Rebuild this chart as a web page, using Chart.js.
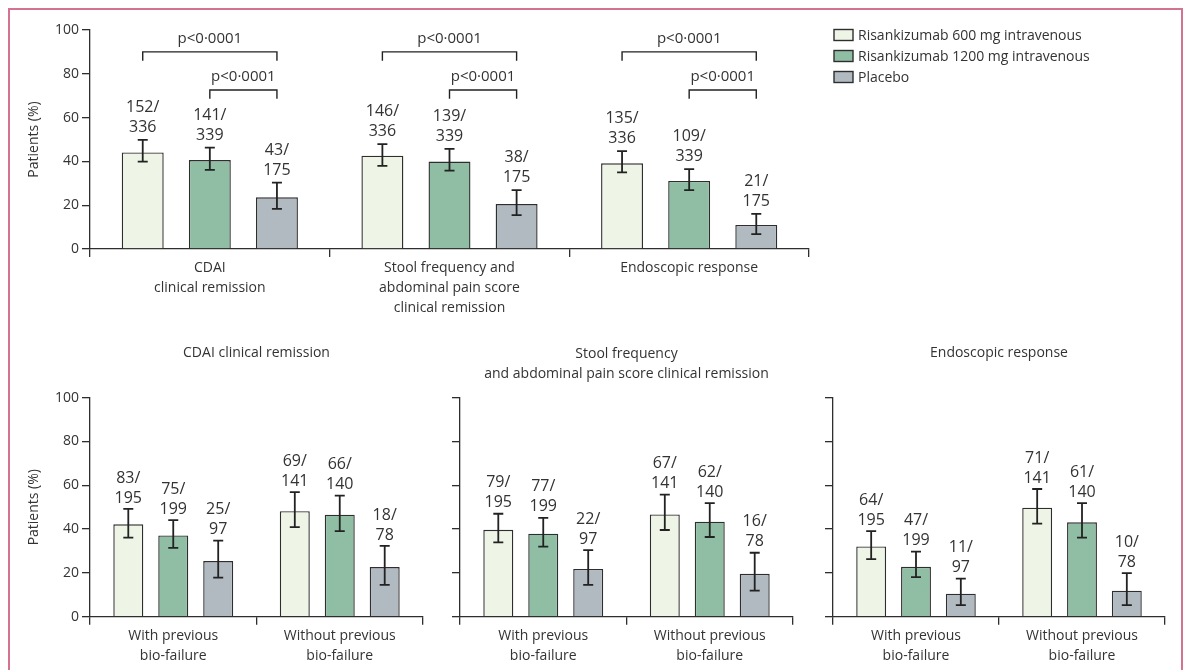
<!DOCTYPE html>
<html><head><meta charset="utf-8">
<script src="https://cdn.jsdelivr.net/npm/chart.js@4.4.1/dist/chart.umd.min.js"></script>
<style>
html,body{margin:0;padding:0;background:#fff;}
body{width:1184px;height:670px;position:relative;overflow:hidden;}
#frame{position:absolute;left:8px;top:8px;width:1175px;height:720px;border:2px solid #d4738f;box-sizing:border-box;}
canvas{position:absolute;}
</style></head><body>
<div id="frame"></div>
<canvas id="topChart" style="left:0;top:0;width:1184px;height:330px" width="1184" height="330"></canvas>
<canvas id="b1" style="left:0;top:330px;width:430px;height:340px" width="430" height="340"></canvas>
<canvas id="b2" style="left:400px;top:330px;width:400px;height:340px" width="400" height="340"></canvas>
<canvas id="b3" style="left:790px;top:330px;width:394px;height:340px" width="394" height="340"></canvas>
<script>
// ---------- DATA ----------
const seriesNames = ["Risankizumab 600 mg intravenous", "Risankizumab 1200 mg intravenous", "Placebo"];
const yTicks = [0, 20, 40, 60, 80, 100];
const pText = "p<0\u00B70001";

// Top panel
const topCategories = [["CDAI", "clinical remission"], ["Stool frequency and", "abdominal pain score", "clinical remission"], ["Endoscopic response"]];
const top600 = [44.1, 42.6, 39.1];
const top600Lo = [39.9, 38.0, 35.0];
const top600Hi = [49.8, 47.9, 44.7];
const top600N = ["152/336", "146/336", "135/336"];
const top1200 = [40.6, 39.9, 31.1];
const top1200Lo = [36.1, 35.8, 26.9];
const top1200Hi = [46.3, 45.7, 36.5];
const top1200N = ["141/339", "139/339", "109/339"];
const topPlacebo = [23.6, 20.5, 11.0];
const topPlaceboLo = [18.3, 15.5, 6.8];
const topPlaceboHi = [30.3, 26.9, 16.0];
const topPlaceboN = ["43/175", "38/175", "21/175"];

// Bottom panels
const subCategories = [["With previous", "bio-failure"], ["Without previous", "bio-failure"]];

const cdaiTitle = ["CDAI clinical remission"];
const cdai600 = [42.2, 48.2], cdai600Lo = [36.1, 40.9], cdai600Hi = [49.2, 56.9], cdai600N = ["83/195", "69/141"];
const cdai1200 = [37.1, 46.6], cdai1200Lo = [31.4, 39.1], cdai1200Hi = [44.1, 55.3], cdai1200N = ["75/199", "66/140"];
const cdaiPlacebo = [25.4, 22.7], cdaiPlaceboLo = [17.8, 14.5], cdaiPlaceboHi = [34.7, 32.3], cdaiPlaceboN = ["25/97", "18/78"];

const stoolTitle = ["Stool frequency", "and abdominal pain score clinical remission"];
const stool600 = [39.7, 46.7], stool600Lo = [33.9, 39.6], stool600Hi = [47.0, 55.7], stool600N = ["79/195", "67/141"];
const stool1200 = [37.9, 43.4], stool1200Lo = [32.0, 36.4], stool1200Hi = [45.1, 51.9], stool1200N = ["77/199", "62/140"];
const stoolPlacebo = [21.8, 19.6], stoolPlaceboLo = [14.5, 11.9], stoolPlaceboHi = [30.4, 29.2], stoolPlaceboN = ["22/97", "16/78"];

const endoTitle = ["Endoscopic response"];
const endo600 = [32.1, 49.8], endo600Lo = [26.3, 42.5], endo600Hi = [39.1, 58.3], endo600N = ["64/195", "71/141"];
const endo1200 = [22.8, 43.1], endo1200Lo = [18.1, 36.1], endo1200Hi = [29.7, 51.9], endo1200N = ["47/199", "61/140"];
const endoPlacebo = [10.5, 11.9], endoPlaceboLo = [5.3, 5.3], endoPlaceboHi = [17.4, 19.9], endoPlaceboN = ["11/97", "10/78"];

// ---------- STYLE ----------
const FONT = '"Open Sans", "Noto Sans", sans-serif';
const INK = '#333333';
const LINE = '#2e2e2e';
const fills = ['#eef5e6', '#8fbea4', '#b1b9c1'];

function makeDatasets(vals, los, his, ns) {
  return vals.map((v, i) => ({
    label: seriesNames[i], data: v, errLo: los[i], errHi: his[i], counts: ns[i],
    backgroundColor: fills[i], borderColor: LINE, borderWidth: 1.4, borderSkipped: 'bottom'
  }));
}

const errLabelPlugin = {
  id: 'errLabels',
  afterDatasetsDraw(chart, args, opts) {
    const ctx = chart.ctx, ys = chart.scales.y;
    chart.data.datasets.forEach((ds, i) => {
      chart.getDatasetMeta(i).data.forEach((bar, j) => {
        const x = bar.x;
        const yHi = ys.getPixelForValue(ds.errHi[j]);
        const yLo = ys.getPixelForValue(ds.errLo[j]);
        ctx.save();
        ctx.strokeStyle = '#222'; ctx.lineWidth = 1.8;
        ctx.beginPath();
        ctx.moveTo(x, yHi); ctx.lineTo(x, yLo);
        ctx.moveTo(x - 5, yHi); ctx.lineTo(x + 5, yHi);
        ctx.moveTo(x - 5, yLo); ctx.lineTo(x + 5, yLo);
        ctx.stroke();
        const parts = ds.counts[j].split('/');
        ctx.fillStyle = INK; ctx.font = '16px ' + FONT;
        ctx.textAlign = 'center'; ctx.textBaseline = 'middle';
        ctx.fillText(parts[0] + '/', x, yHi - opts.gap - 20);
        ctx.fillText(parts[1], x, yHi - opts.gap);
        ctx.restore();
      });
    });
  }
};

const bracketPlugin = {
  id: 'brackets',
  afterDatasetsDraw(chart, args, opts) {
    if (!opts.items) return;
    const ctx = chart.ctx, ys = chart.scales.y;
    opts.items.forEach(b => {
      chart.data.labels.forEach((_, j) => {
        const x1 = chart.getDatasetMeta(b.from).data[j].x;
        const x2 = chart.getDatasetMeta(b.to).data[j].x;
        const yb = ys.getPixelForValue(b.level);
        const yl = ys.getPixelForValue(b.level - 4);
        ctx.save();
        ctx.strokeStyle = '#222'; ctx.lineWidth = 1.4;
        ctx.beginPath();
        ctx.moveTo(x1, yl); ctx.lineTo(x1, yb); ctx.lineTo(x2, yb); ctx.lineTo(x2, yl);
        ctx.stroke();
        ctx.fillStyle = INK; ctx.font = '15px ' + FONT;
        ctx.textAlign = 'center'; ctx.textBaseline = 'middle';
        ctx.fillText(b.text, (x1 + x2) / 2, ys.getPixelForValue(b.level + 6));
        ctx.restore();
      });
    });
  }
};

const panelTitlePlugin = {
  id: 'panelTitle',
  afterDraw(chart, args, opts) {
    if (!opts.lines) return;
    const ctx = chart.ctx, ca = chart.chartArea;
    ctx.save();
    ctx.fillStyle = INK; ctx.font = '14px ' + FONT;
    ctx.textAlign = 'center'; ctx.textBaseline = 'middle';
    opts.lines.forEach((t, k) => ctx.fillText(t, (ca.left + ca.right) / 2, opts.y + k * 20));
    ctx.restore();
  }
};

const boxLegendPlugin = {
  id: 'boxLegend',
  afterDraw(chart, args, opts) {
    if (!opts.show) return;
    const ctx = chart.ctx;
    ctx.save();
    chart.data.datasets.forEach((ds, i) => {
      const y = opts.y + i * 21;
      ctx.fillStyle = ds.backgroundColor;
      ctx.fillRect(opts.x, y - 5.5, 19, 11);
      ctx.strokeStyle = LINE; ctx.lineWidth = 1.4;
      ctx.strokeRect(opts.x, y - 5.5, 19, 11);
      ctx.fillStyle = INK; ctx.font = '14px ' + FONT;
      ctx.textAlign = 'left'; ctx.textBaseline = 'middle';
      ctx.fillText(ds.label, opts.x + 24, y + 1);
    });
    ctx.restore();
  }
};

function makeChart(id, cfg) {
  return new Chart(document.getElementById(id), {
    type: 'bar',
    data: { labels: cfg.labels, datasets: cfg.datasets },
    plugins: [errLabelPlugin, bracketPlugin, panelTitlePlugin, boxLegendPlugin],
    options: {
      responsive: false, animation: false,
      layout: { padding: { top: cfg.padTop, right: cfg.padRight, left: 0, bottom: 0 } },
      datasets: { bar: { categoryPercentage: cfg.catPct, barPercentage: cfg.barPct } },
      plugins: {
        legend: { display: false }, tooltip: { enabled: false }, title: { display: false },
        errLabels: { gap: cfg.gap },
        brackets: { items: cfg.brackets },
        panelTitle: { lines: cfg.title, y: cfg.titleY },
        boxLegend: { show: cfg.legend, x: 834, y: 35 }
      },
      scales: {
        x: {
          type: 'category', offset: true,
          grid: { display: true, offset: true, drawOnChartArea: false, drawTicks: true, tickLength: 8, color: LINE, lineWidth: 1.3 },
          border: { display: true, color: LINE, width: 1.3 },
          ticks: { color: INK, font: { family: FONT, size: 14, lineHeight: 1.43 }, padding: 1, maxRotation: 0, autoSkip: false },
          afterFit: s => { s.height = cfg.xHeight; }
        },
        y: {
          min: 0, max: 100,
          afterBuildTicks: s => { s.ticks = yTicks.map(v => ({ value: v })); },
          grid: { display: true, drawOnChartArea: false, drawTicks: true, tickLength: 8, color: LINE, lineWidth: 1.3 },
          border: { display: true, color: LINE, width: 1.3 },
          ticks: { display: cfg.yLabels, color: INK, font: { family: FONT, size: 14 }, padding: 3 },
          title: { display: cfg.yLabels, text: 'Patients (%)', color: INK, font: { family: FONT, size: 14 }, padding: { top: 26, bottom: 0 } },
          afterFit: s => { s.width = cfg.yWidth; }
        }
      }
    }
  });
}

makeChart('topChart', {
  labels: topCategories,
  datasets: makeDatasets([top600, top1200, topPlacebo], [top600Lo, top1200Lo, topPlaceboLo], [top600Hi, top1200Hi, topPlaceboHi], [top600N, top1200N, topPlaceboN]),
  padTop: 30, padRight: 375, xHeight: 81, yWidth: 90, catPct: 0.84, barPct: 0.625, gap: 12.5,
  yLabels: true, legend: true,
  brackets: [{ from: 0, to: 2, level: 90, text: pText }, { from: 1, to: 2, level: 72.6, text: pText }]
});

makeChart('b1', {
  labels: subCategories,
  datasets: makeDatasets([cdai600, cdai1200, cdaiPlacebo], [cdai600Lo, cdai1200Lo, cdaiPlaceboLo], [cdai600Hi, cdai1200Hi, cdaiPlaceboHi], [cdai600N, cdai1200N, cdaiPlaceboN]),
  padTop: 67.7, padRight: 7, xHeight: 53.3, yWidth: 90, catPct: 0.81, barPct: 0.667, gap: 11,
  yLabels: true, legend: false, title: cdaiTitle, titleY: 23
});

makeChart('b2', {
  labels: subCategories,
  datasets: makeDatasets([stool600, stool1200, stoolPlacebo], [stool600Lo, stool1200Lo, stoolPlaceboLo], [stool600Hi, stool1200Hi, stoolPlaceboHi], [stool600N, stool1200N, stoolPlaceboN]),
  padTop: 67.7, padRight: 7, xHeight: 53.3, yWidth: 60, catPct: 0.81, barPct: 0.667, gap: 11,
  yLabels: false, legend: false, title: stoolTitle, titleY: 24
});

makeChart('b3', {
  labels: subCategories,
  datasets: makeDatasets([endo600, endo1200, endoPlacebo], [endo600Lo, endo1200Lo, endoPlaceboLo], [endo600Hi, endo1200Hi, endoPlaceboHi], [endo600N, endo1200N, endoPlaceboN]),
  padTop: 67.7, padRight: 19, xHeight: 53.3, yWidth: 43, catPct: 0.81, barPct: 0.667, gap: 11,
  yLabels: false, legend: false, title: endoTitle, titleY: 23
});
</script>
</body></html>
